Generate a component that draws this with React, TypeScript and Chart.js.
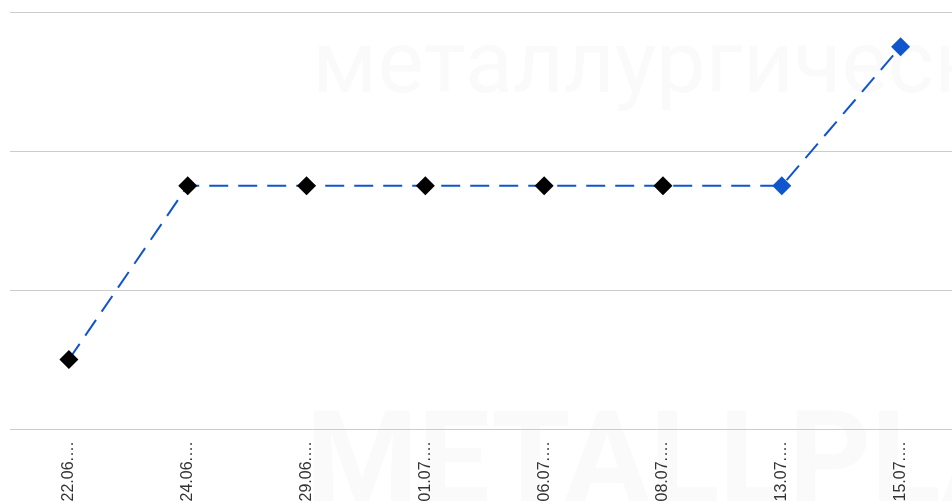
import React, { useEffect, useRef } from "react";
import { Chart, registerables } from "chart.js";

Chart.register(...registerables);

const categories = ["22.06.…", "24.06.…", "29.06.…", "01.07.…", "06.07.…", "08.07.…", "13.07.…", "15.07.…"];
const values = [45500, 46750, 46750, 46750, 46750, 46750, 46750, 47750];
const pointColors = ["#000000", "#000000", "#000000", "#000000", "#000000", "#000000", "#1155cc", "#1155cc"];
const yMin = 45000;
const yMax = 48000;
const yStep = 1000;

const watermark = {
  id: "watermark",
  beforeDraw(chart: any) {
    const ctx = chart.ctx;
    ctx.save();
    ctx.fillStyle = "#fafafa";
    ctx.textBaseline = "alphabetic";
    ctx.textAlign = "left";
    ctx.font = "88px Roboto";
    ctx.fillText("металлургический портал", 312, 92);
    ctx.font = "bold 128px Roboto";
    ctx.fillText("METALLPLANT", 306, 502);
    ctx.restore();
  },
};

export default function App() {
  const ref = useRef<HTMLCanvasElement | null>(null);
  useEffect(() => {
    document.body.style.margin = "0";
    document.body.style.overflow = "hidden";
    const canvas = ref.current!;
    const chart = new Chart(canvas, {
      type: "line",
      data: {
        labels: categories,
        datasets: [
          {
            data: values,
            borderColor: "#1155cc",
            borderWidth: 2,
            borderDash: [19, 10],
            pointStyle: "rectRot",
            pointRadius: 9.5,
            pointBackgroundColor: pointColors,
            pointBorderColor: pointColors,
            pointBorderWidth: 0,
            tension: 0,
            fill: false,
          },
        ],
      },
      options: {
        animation: false,
        responsive: false,
        maintainAspectRatio: false,
        layout: { padding: { left: 9, right: 20, top: 12, bottom: 0 } },
        plugins: { legend: { display: false }, tooltip: { enabled: false }, title: { display: false } },
        scales: {
          x: {
            offset: true,
            grid: { display: false, drawTicks: false },
            border: { display: false },
            ticks: {
              minRotation: 90,
              maxRotation: 90,
              autoSkip: false,
              padding: 12,
              color: "#333333",
              font: { family: "'Liberation Sans', Arial, sans-serif", size: 16 },
            },
            afterFit: (s: any) => {
              s.height = 131;
            },
          },
          y: {
            min: yMin,
            max: yMax,
            ticks: { display: false, stepSize: yStep },
            grid: { color: "#cccccc", lineWidth: 1, drawTicks: false },
            border: { display: false },
            afterFit: (s: any) => {
              s.width = 0;
            },
          },
        },
      },
      plugins: [watermark],
    });
    return () => chart.destroy();
  }, []);
  return (
    <div style={{ position: "relative", width: 952, height: 501, overflow: "hidden", background: "#ffffff" }}>
      <canvas ref={ref} width={980} height={560} style={{ position: "absolute", left: 0, top: 0, width: 980, height: 560 }} />
    </div>
  );
}
